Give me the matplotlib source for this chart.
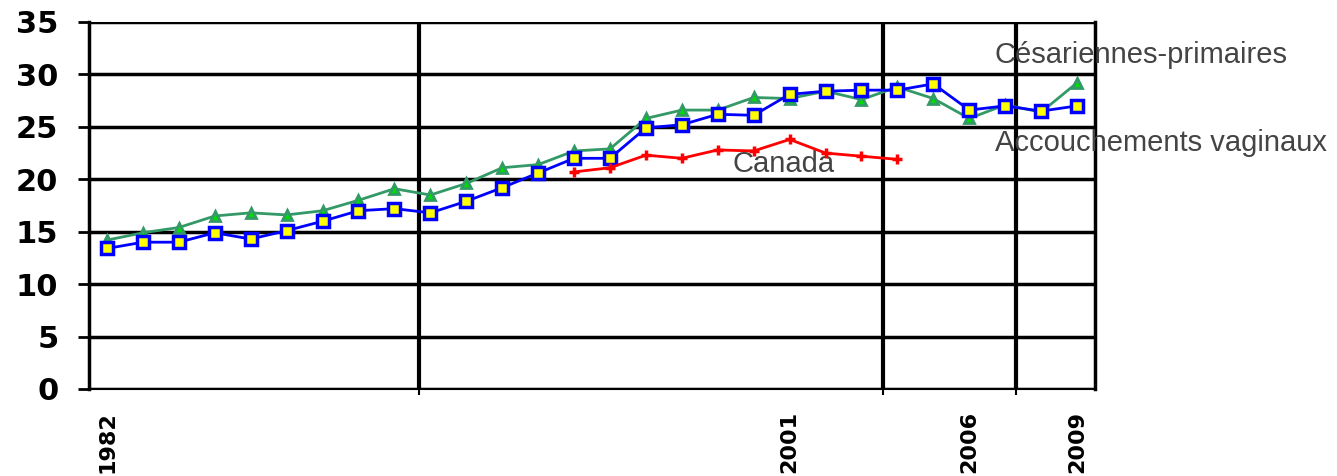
import matplotlib
matplotlib.use("Agg")
import matplotlib.pyplot as plt

# donnees
years = list(range(1982, 2010))
cesar_primaires = [14.2, 14.9, 15.4, 16.5, 16.8, 16.6, 17.0, 18.0, 19.1, 18.5,
                   19.6, 21.1, 21.4, 22.7, 22.9, 25.8, 26.6, 26.6, 27.8, 27.7,
                   28.4, 27.6, 28.8, 27.7, 25.8, 27.1, 26.4, 29.2]
acc_vaginaux = [13.4, 14.0, 14.0, 14.9, 14.3, 15.1, 16.0, 17.0, 17.2, 16.8,
                17.9, 19.2, 20.6, 22.0, 22.0, 24.9, 25.2, 26.2, 26.1, 28.1,
                28.4, 28.5, 28.5, 29.1, 26.6, 27.0, 26.5, 27.0]
canada_years = list(range(1995, 2005))
canada = [20.7, 21.1, 22.3, 22.0, 22.8, 22.7, 23.8, 22.5, 22.2, 21.9]

label_years = [1982, 2001, 2006, 2009]
vgrid = [1990.68, 2003.6, 2007.3]
yticks = [0, 5, 10, 15, 20, 25, 30, 35]

fig = plt.figure(figsize=(13.37, 4.76), dpi=100)
ax = fig.add_axes([0.0666, 0.1828, 0.7524, 0.771])

ax.plot(years, cesar_primaires, color="#339966", lw=2, marker="^", ms=7,
        mfc="#00dd00", mec="#339966", mew=2, zorder=3)
ax.plot(years, acc_vaginaux, color="#0000ff", lw=2, marker="s", ms=8,
        mfc="#ffff00", mec="#0000ff", mew=2.5, zorder=4)
ax.plot(canada_years, canada, color="#ff0000", lw=2, marker="+", ms=7,
        mew=2.5, zorder=4)

ax.set_xlim(1981.5, 2009.5)
ax.set_ylim(0, 35)

ax.set_yticks(yticks)
ax.set_yticklabels([str(v) for v in yticks], fontsize=22, fontweight="bold",
                   family="DejaVu Sans")
ax.tick_params(axis="y", length=8, width=2, pad=14, colors="black")
ax.yaxis.grid(True, color="black", lw=2.5)

ax.set_xticks(vgrid)
ax.set_xticklabels([])
ax.tick_params(axis="x", which="major", length=4, width=1.5, direction="out")
ax.set_xticks(label_years, minor=True)
ax.set_xticklabels([str(y) for y in label_years], minor=True, rotation=90,
                   fontsize=16, family="DejaVu Sans", fontweight="bold",
                   va="top")
ax.tick_params(axis="x", which="minor", length=0, pad=16)
for xv in vgrid:
    ax.axvline(xv, color="black", lw=3, zorder=1)

ax.spines["top"].set_visible(False)
ax.spines["left"].set_linewidth(2.5)
ax.spines["right"].set_linewidth(2.5)
ax.spines["bottom"].set_linewidth(1.5)
ax.set_axisbelow(True)

txt = dict(fontsize=21, color="#444444", family="Liberation Sans")
ax.text(1999.4, 21.5, "Canada", va="center", **txt)
fig.text(995 / 1337, 1 - 55 / 476, "Césariennes-primaires", va="center", **txt)
fig.text(995 / 1337, 1 - 143 / 476, "Accouchements vaginaux", va="center", **txt)

fig.savefig("out.png", dpi=100)
